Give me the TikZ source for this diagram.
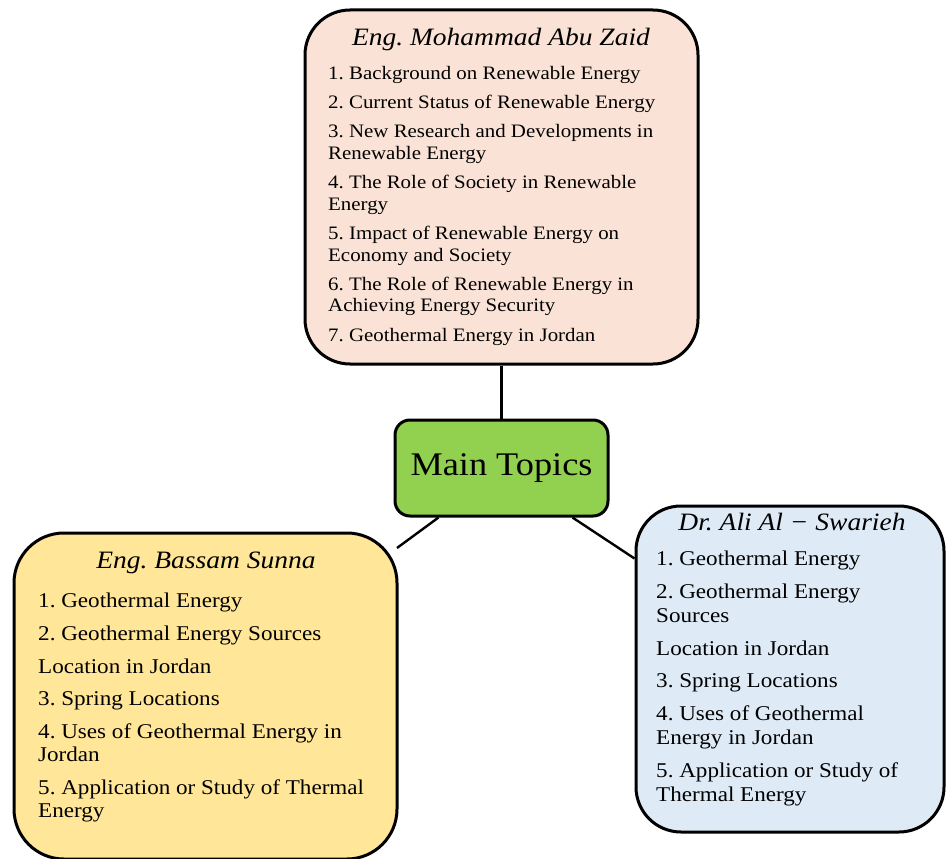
\documentclass[tikz,border=0pt]{standalone}
\usepackage{fontspec}
\setmainfont{Liberation Serif}[FakeStretch=1.1]
\usepackage{xcolor}
\usetikzlibrary{positioning}
\frenchspacing

\definecolor{peach}{HTML}{FAE3D6}
\definecolor{leaf}{HTML}{92D050}
\definecolor{gold}{HTML}{FFE699}
\definecolor{sky}{HTML}{DEEBF7}

\begin{document}
\begin{tikzpicture}[
    x=1pt, y=-1pt,
    topic/.style={rectangle, draw, line width=3pt, rounded corners=45pt, inner sep=0pt},
    head/.style={font=\fontsize{25}{30}\selectfont\itshape, inner sep=0pt},
    items/.style={align=left, anchor=north west, inner sep=0pt},
    link/.style={draw, line width=2.4pt}
]
    \useasboundingbox (0,0) rectangle (946,859);

    % Boxes
    \node [topic, fill=peach, minimum width=393pt, minimum height=354pt] (mohammad) at (501.5,187) {};
    \node [topic, fill=leaf, rounded corners=15pt, minimum width=213pt, minimum height=96pt,
           font=\fontsize{33}{38}\selectfont] (main) at (501.5,468) {Main Topics};
    \node [topic, fill=gold, rounded corners=50pt, minimum width=383pt, minimum height=326pt] (bassam) at (205.5,696) {};
    \node [topic, fill=sky, minimum width=308pt, minimum height=326pt] (ali) at (790,669) {};

    % Headings
    \node [head] (mohammadhead) at (501,39) {Eng. Mohammad Abu Zaid};
    \node [head] (bassamhead) at (206,563) {Eng. Bassam Sunna};
    \node [head] (alihead) at (792,522) {Dr. Ali Al − Swarieh};

    % Topic lists
    \node [items, font=\fontsize{19}{21.5}\selectfont] (mohammadlist) at (328,66) {%
        1. Background on Renewable Energy\\[7.8pt]
        2. Current Status of Renewable Energy\\[7.8pt]
        3. New Research and Developments in\\Renewable Energy\\[7.8pt]
        4. The Role of Society in Renewable\\Energy\\[7.8pt]
        5. Impact of Renewable Energy on\\Economy and Society\\[7.8pt]
        6. The Role of Renewable Energy in\\Achieving Energy Security\\[7.8pt]
        7. Geothermal Energy in Jordan};
    \node [items, font=\fontsize{21}{23}\selectfont] (bassamlist) at (38,593) {%
        1. Geothermal Energy\\[9.7pt]
        2. Geothermal Energy Sources\\[9.7pt]
        Location in Jordan\\[9.7pt]
        3. Spring Locations\\[9.7pt]
        4. Uses of Geothermal Energy in\\Jordan\\[9.7pt]
        5. Application or Study of Thermal\\Energy};
    \node [items, font=\fontsize{21}{24}\selectfont] (alilist) at (656,551) {%
        1. Geothermal Energy\\[8.7pt]
        2. Geothermal Energy\\Sources\\[8.7pt]
        Location in Jordan\\[8.7pt]
        3. Spring Locations\\[8.7pt]
        4. Uses of Geothermal\\Energy in Jordan\\[8.7pt]
        5. Application or Study of\\Thermal Energy};

    % Paths
    \coordinate (bassamtip) at (397,548);
    \path [link] (main.north) -- (mohammad.south);
    \path [link] ([xshift=45pt]main.south west) -- (bassamtip);
    \path [link] ([xshift=-37pt]main.south east) -- ([yshift=-54pt]ali.north west);
\end{tikzpicture}
\end{document}
